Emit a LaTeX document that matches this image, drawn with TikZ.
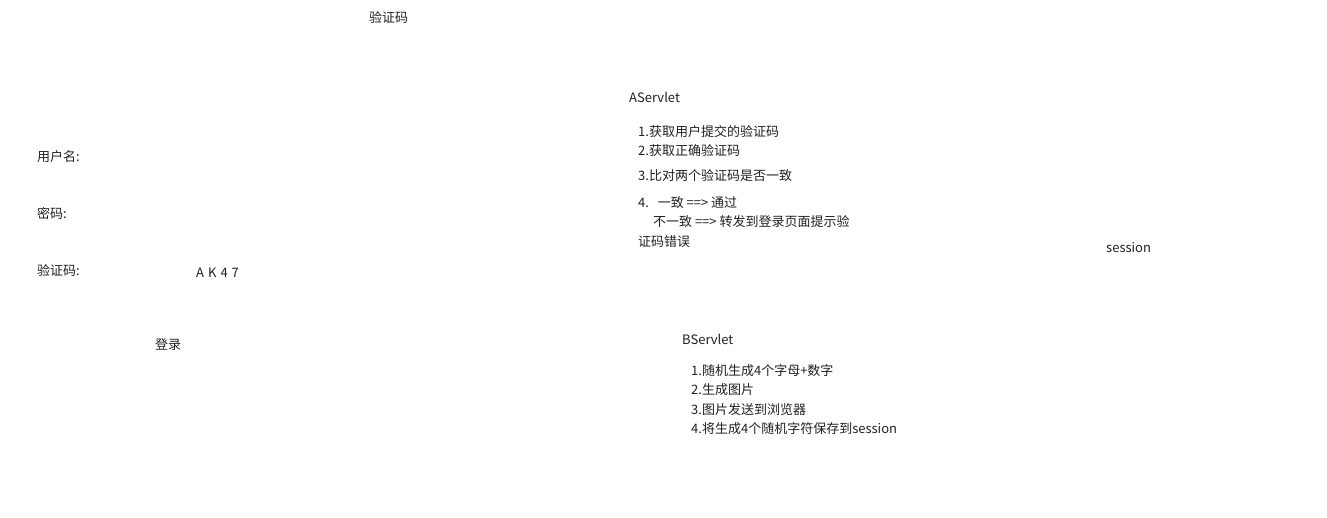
\documentclass[tikz,border=0pt]{standalone}
\usepackage{fontspec}
\setmainfont{Noto Sans CJK SC}
\usetikzlibrary{positioning}
\definecolor{txtdark}{HTML}{202020}

\begin{document}
\begin{tikzpicture}[x=1pt, y=-1pt,
      font=\fontsize{13}{15}\selectfont,
      lbl/.style={anchor=west, inner sep=0pt, text=txtdark},
      code/.style={lbl, font=\fontsize{13}{15}\selectfont}]
    \useasboundingbox (0,0) rectangle (1327,517);
    % login form
    \node[lbl] (titulo) at (369,17) {验证码};
    \node[lbl] (user) at (37,157) {用户名:};
    \node[lbl] (pwd) at (37,213) {密码:};
    \node[lbl] (vcode) at (37,270) {验证码:};
    \node[code] (img) at (196,273) {A\hspace{4pt}K\hspace{4pt}4\hspace{4pt}7};
    \node[lbl] (login) at (155,345) {登录};
    % AServlet
    \node[lbl] (aserv) at (629,97) {AServlet};
    \node[lbl] (a1) at (638,132) {1.获取用户提交的验证码};
    \node[lbl] (a2) at (638,151) {2.获取正确验证码};
    \node[lbl] (a3) at (638,176) {3.比对两个验证码是否一致};
    \node[lbl] (a4) at (638,203) {4.\ \ \ 一致 ==> 通过};
    \node[lbl] (a5) at (650,222) {\ 不一致 ==> 转发到登录页面提示验};
    \node[lbl] (a6) at (638,242) {证码错误};
    \node[lbl] (sess) at (1106,248) {session};
    % BServlet
    \node[lbl] (bserv) at (682,339) {BServlet};
    \node[lbl] (b1) at (691,371) {1.随机生成4个字母+数字};
    \node[lbl] (b2) at (691,390) {2.生成图片};
    \node[lbl] (b3) at (691,410) {3.图片发送到浏览器};
    \node[lbl] (b4) at (691,429) {4.将生成4个随机字符保存到session};
  \end{tikzpicture}
\end{document}
